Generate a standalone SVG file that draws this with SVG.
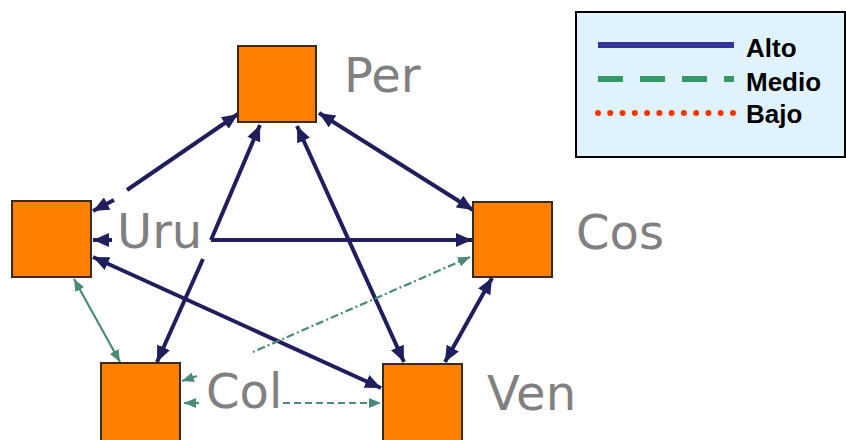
<svg xmlns="http://www.w3.org/2000/svg" width="846" height="440" viewBox="0 0 846 440">
<style>
.node{fill:#ff8000;stroke:#3a2a1a;stroke-width:2}
.lbl{font-family:"DejaVu Sans",Verdana,sans-serif;font-size:48px;fill:#808080}
.hi{stroke:#1f1f5e;stroke-width:4;fill:none}
.tl{stroke:#4a8a7a;stroke-width:2.2;fill:none}
.leg{font-family:"Liberation Sans",Arial,sans-serif;font-weight:bold;font-size:26px;fill:#000}
</style>
<defs>
<marker id="an" markerUnits="userSpaceOnUse" markerWidth="16" markerHeight="14" refX="16" refY="7" orient="auto-start-reverse" viewBox="0 0 16 14">
<path d="M0,0 L16,7 L0,14 z" fill="#1f1f5e"/>
</marker>
<marker id="at" markerUnits="userSpaceOnUse" markerWidth="12" markerHeight="10" refX="12" refY="5" orient="auto-start-reverse" viewBox="0 0 12 10">
<path d="M0,0 L12,5 L0,10 z" fill="#4a8a7a"/>
</marker>
</defs>
<rect width="846" height="440" fill="#ffffff"/>
<g id="connectors">
<line class="hi" x1="238" y1="114" x2="127" y2="190" marker-start="url(#an)"/>
<line class="hi" x1="114" y1="200" x2="93" y2="211" marker-end="url(#an)"/>
<line class="hi" x1="319" y1="113" x2="473" y2="210" marker-start="url(#an)" marker-end="url(#an)"/>
<line class="hi" x1="260" y1="125" x2="211" y2="240" marker-start="url(#an)"/>
<line class="hi" x1="203" y1="259" x2="157" y2="362" marker-end="url(#an)"/>
<line class="hi" x1="112" y1="240" x2="93" y2="240" marker-end="url(#an)"/>
<line class="hi" x1="211" y1="240" x2="472" y2="240" marker-end="url(#an)"/>
<line class="hi" x1="93" y1="257" x2="381" y2="388" marker-start="url(#an)" marker-end="url(#an)"/>
<line class="hi" x1="297" y1="126" x2="404" y2="362" marker-start="url(#an)" marker-end="url(#an)"/>
<line class="hi" x1="492" y1="278" x2="445" y2="362" marker-start="url(#an)" marker-end="url(#an)"/>
<line class="tl" x1="74" y1="279" x2="120" y2="362" marker-start="url(#at)" marker-end="url(#at)"/>
<line class="tl" x1="470" y1="257" x2="253" y2="352" stroke-dasharray="8 3 2 3" marker-start="url(#at)"/>
<line class="tl" x1="197" y1="376" x2="182" y2="381" marker-end="url(#at)"/>
<line class="tl" x1="199" y1="403" x2="184" y2="403" marker-end="url(#at)"/>
<line class="tl" x1="283" y1="403" x2="381" y2="403" stroke-dasharray="7 4" marker-end="url(#at)"/>
</g>
<g id="per"><rect class="node" x="238" y="46" width="78" height="76"/><text class="lbl" x="344" y="92">Per</text></g>
<g id="uru"><rect class="node" x="12" y="201" width="79" height="76"/><text class="lbl" x="117" y="248">Uru</text></g>
<g id="cos"><rect class="node" x="473" y="202" width="79" height="75"/><text class="lbl" x="576" y="249">Cos</text></g>
<g id="col"><rect class="node" x="101" y="363" width="79" height="80"/><text class="lbl" x="206" y="408">Col</text></g>
<g id="ven"><rect class="node" x="383" y="364" width="79" height="80"/><text class="lbl" x="487" y="410">Ven</text></g>
<g id="legend">
<rect x="576" y="12" width="269" height="145" fill="#e0f3fd" stroke="#000" stroke-width="2"/>
<line x1="598" y1="45" x2="734" y2="45" stroke="#333399" stroke-width="6"/>
<line x1="598" y1="79" x2="734" y2="79" stroke="#339966" stroke-width="6" stroke-dasharray="25 17"/>
<line x1="598" y1="113" x2="733" y2="113" stroke="#ff3300" stroke-width="6" stroke-linecap="round" stroke-dasharray="0 12.27"/>
<text class="leg" x="746" y="57">Alto</text>
<text class="leg" x="746" y="91">Medio</text>
<text class="leg" x="746" y="123">Bajo</text>
</g>
</svg>
